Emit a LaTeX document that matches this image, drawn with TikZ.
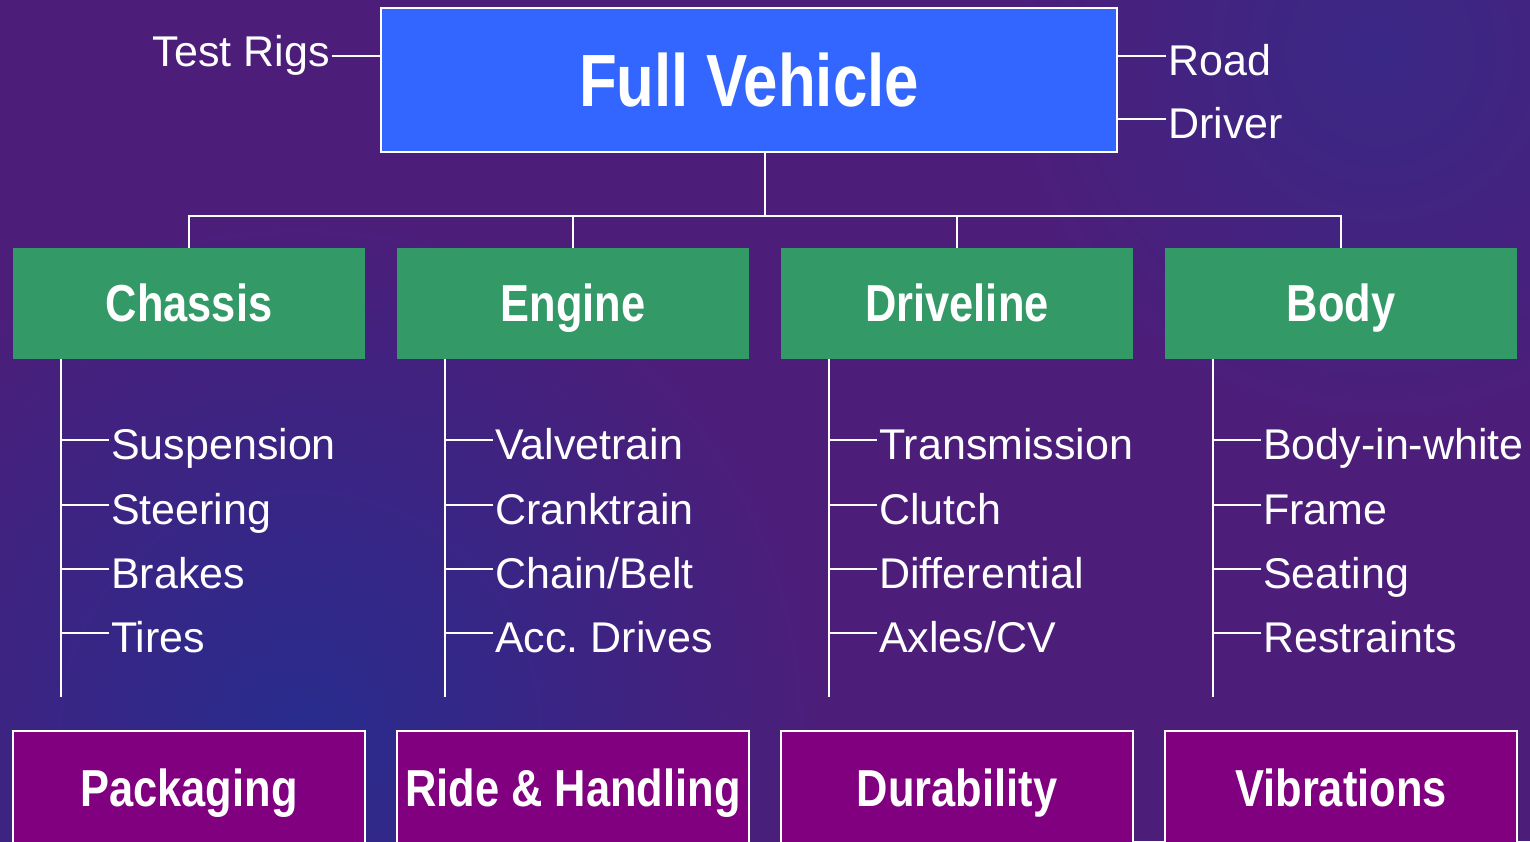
\documentclass[tikz,border=0pt]{standalone}
\usepackage{fontspec}
\setmainfont{Liberation Sans}
\newfontfamily\vhHead[FakeStretch=0.835]{Liberation Sans}
\usetikzlibrary{positioning}

\definecolor{vhBg}{RGB}{76,30,122}
\definecolor{vhBgBlue}{RGB}{40,44,142}
\definecolor{vhBgTop}{RGB}{58,40,134}
\definecolor{vhBlue}{RGB}{51,102,255}
\definecolor{vhGreen}{RGB}{51,153,102}
\definecolor{vhMagenta}{RGB}{128,0,128}

\begin{document}
\begin{tikzpicture}[x=1pt, y=1pt,
  vhLine/.style={line width=1.6pt, draw=white},
  vhTop/.style={draw=white, line width=1.6pt, fill=vhBlue, minimum width=736pt, minimum height=144pt,
    inner sep=0pt, text=white, font=\vhHead\bfseries\fontsize{74}{80}\selectfont, text height=53pt, text depth=0pt},
  vhGroup/.style={fill=vhGreen, minimum width=352pt, minimum height=111pt, inner sep=0pt,
    text=white, font=\vhHead\bfseries\fontsize{52}{58}\selectfont, text height=37pt, text depth=0pt},
  vhAspect/.style={draw=white, line width=1.6pt, fill=vhMagenta, minimum width=352pt, minimum height=130pt,
    inner sep=0pt, text=white, font=\vhHead\bfseries\fontsize{52}{58}\selectfont, text height=37pt, text depth=16pt},
  vhItem/.style={anchor=west, inner xsep=2pt, inner ysep=0pt, text=white,
    font=\fontsize{43}{49}\selectfont, text height=39pt, text depth=0pt}]
  \useasboundingbox (0,0) rectangle (1530,841);
  \fill[vhBg] (0,0) rectangle (1530,841);
  \shade[inner color=vhBgBlue, outer color=vhBg] (300,110) circle (520);
  \shade[inner color=vhBgTop, outer color=vhBg] (1380,790) circle (380);

  \node[vhTop] (fv) at (749,761) {Full Vehicle};
  \node[vhItem, anchor=east, text height=31pt, text depth=10pt] (trig) at (332,785) {Test Rigs};
  \node[vhItem] (road) at (1166,785) {Road};
  \node[vhItem] (driver) at (1166,722) {Driver};
  \draw[vhLine] (trig.east) -- (trig.east -| fv.west);
  \draw[vhLine] (fv.east |- road.west) -- (road.west);
  \draw[vhLine] (fv.east |- driver.west) -- (driver.west);

  \node[vhGroup] (chassis) at (189,537.5) {Chassis};
  \node[vhGroup] (engine) at (573,537.5) {Engine};
  \node[vhGroup] (driveline) at (957,537.5) {Driveline};
  \node[vhGroup] (body) at (1341,537.5) {Body};
  \coordinate (hub) at (765,625);
  \draw[vhLine] (fv.south -| hub) -- (hub);
  \draw[vhLine] (chassis.north) |- (body.north |- hub) -- (body.north);
  \draw[vhLine] (engine.north) -- (engine.north |- hub);
  \draw[vhLine] (driveline.north) -- (driveline.north |- hub);

  \coordinate (csEnd) at (61,144);
  \draw[vhLine] (chassis.south -| csEnd) -- (csEnd);
  \node[vhItem] (susp) at (109,401) {Suspension};
  \node[vhItem] (steer) at (109,336) {Steering};
  \node[vhItem] (brakes) at (109,272) {Brakes};
  \node[vhItem] (tires) at (109,208) {Tires};
  \draw[vhLine] (susp.west -| csEnd) -- (susp.west);
  \draw[vhLine] (steer.west -| csEnd) -- (steer.west);
  \draw[vhLine] (brakes.west -| csEnd) -- (brakes.west);
  \draw[vhLine] (tires.west -| csEnd) -- (tires.west);

  \coordinate (enEnd) at (445,144);
  \draw[vhLine] (engine.south -| enEnd) -- (enEnd);
  \node[vhItem] (valve) at (493,401) {Valvetrain};
  \node[vhItem] (crank) at (493,336) {Cranktrain};
  \node[vhItem] (chain) at (493,272) {Chain/Belt};
  \node[vhItem] (acc) at (493,208) {Acc.\ Drives};
  \draw[vhLine] (valve.west -| enEnd) -- (valve.west);
  \draw[vhLine] (crank.west -| enEnd) -- (crank.west);
  \draw[vhLine] (chain.west -| enEnd) -- (chain.west);
  \draw[vhLine] (acc.west -| enEnd) -- (acc.west);

  \coordinate (dlEnd) at (829,144);
  \draw[vhLine] (driveline.south -| dlEnd) -- (dlEnd);
  \node[vhItem] (trans) at (877,401) {Transmission};
  \node[vhItem] (clutch) at (877,336) {Clutch};
  \node[vhItem] (diff) at (877,272) {Differential};
  \node[vhItem] (axles) at (877,208) {Axles/CV};
  \draw[vhLine] (trans.west -| dlEnd) -- (trans.west);
  \draw[vhLine] (clutch.west -| dlEnd) -- (clutch.west);
  \draw[vhLine] (diff.west -| dlEnd) -- (diff.west);
  \draw[vhLine] (axles.west -| dlEnd) -- (axles.west);

  \coordinate (bdEnd) at (1213,144);
  \draw[vhLine] (body.south -| bdEnd) -- (bdEnd);
  \node[vhItem] (biw) at (1261,401) {Body-in-white};
  \node[vhItem] (frame) at (1261,336) {Frame};
  \node[vhItem] (seating) at (1261,272) {Seating};
  \node[vhItem] (restr) at (1261,208) {Restraints};
  \draw[vhLine] (biw.west -| bdEnd) -- (biw.west);
  \draw[vhLine] (frame.west -| bdEnd) -- (frame.west);
  \draw[vhLine] (seating.west -| bdEnd) -- (seating.west);
  \draw[vhLine] (restr.west -| bdEnd) -- (restr.west);

  \node[vhAspect] (packaging) at (189,45) {Packaging};
  \node[vhAspect] (ride) at (573,45) {Ride \& Handling};
  \node[vhAspect] (durability) at (957,45) {Durability};
  \node[vhAspect] (vibrations) at (1341,45) {Vibrations};
\end{tikzpicture}
\end{document}
